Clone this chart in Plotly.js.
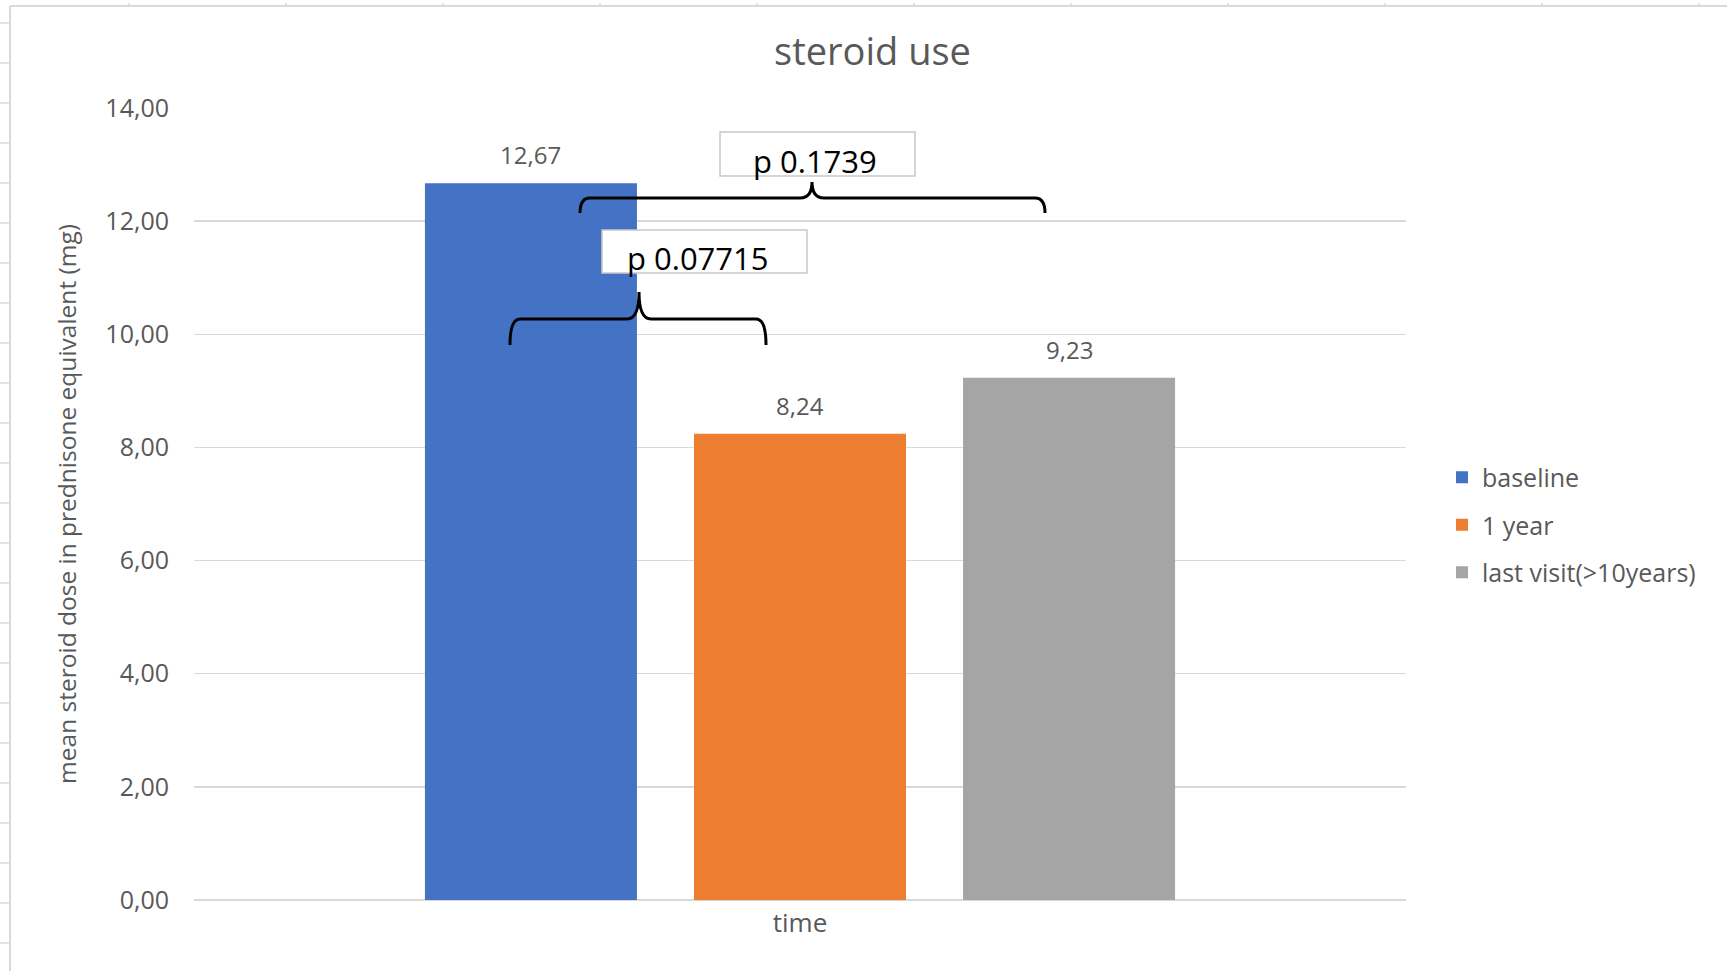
<!DOCTYPE html>
<html>
<head>
<meta charset="utf-8">
<script src="https://cdn.plot.ly/plotly-3.0.1.min.js"></script>
<style>html,body{margin:0;padding:0;background:#fff;}#chart{width:1727px;height:971px;}</style>
</head>
<body>
<div id="chart"></div>
<script>
// ---- data ----
const category = ["time"];
const seriesNames = ["baseline", "1 year", "last visit(>10years)"];
const seriesValues = [12.67, 8.24, 9.23];
const seriesColors = ["#4472C4", "#ED7D31", "#A5A5A5"];
const yTickValues = [0, 2, 4, 6, 8, 10, 12, 14];
const pLabels = ["p 0.1739", "p 0.07715"];

// ---- geometry ----
const W = 1727, H = 971;
const M = {l: 194, r: 321, t: 108, b: 71};
const PW = W - M.l - M.r, PH = H - M.t - M.b;
const px = x => (x - M.l) / PW;          // figure px -> paper x
const py = y => (H - M.b - y) / PH;      // figure px -> paper y
const BARGAP = 0.334, BARGROUPGAP = 0.212;
const slot = (1 - BARGAP) / seriesNames.length;

const traces = seriesNames.map((name, i) => ({
  type: "bar",
  name: name,
  x: category,
  y: [seriesValues[i]],
  legendgroup: "g" + i,
  marker: {color: seriesColors[i], line: {width: 0}},
  hoverinfo: "skip"
}));

const grey = "#595959";
const font = "Open Sans, sans-serif";

// value labels above bars
const valueAnn = seriesValues.map((v, i) => ({
  xref: "x", yref: "y",
  x: (i - (seriesNames.length - 1) / 2) * slot,
  y: v,
  text: v.toFixed(2).replace(".", ","),
  showarrow: false, yanchor: "bottom", yshift: 10,
  font: {family: font, size: 24, color: grey}
}));

// p-value boxes (rect) + text
const pBoxes = [
  {x0: 720, x1: 915, y0: 132, y1: 176, tx: 815, ty: 161, text: pLabels[0]},
  {x0: 602, x1: 807, y0: 230, y1: 273, tx: 698, ty: 258, text: pLabels[1]}
];
const pAnn = pBoxes.map(b => ({
  xref: "paper", yref: "paper", x: px(b.tx), y: py(b.ty),
  xanchor: "center", yanchor: "middle",
  text: b.text, showarrow: false, borderpad: 0,
  font: {family: font, size: 31, color: "#000000"}
}));

function brace(x1, xm, x2, y, ytip, yend) {
  const P = (x, yy) => px(x) + "," + py(yy);
  return "M" + P(x1, yend) + " Q" + P(x1, y) + " " + P(x1 + 10, y) +
    " L" + P(xm - 12, y) + " Q" + P(xm, y) + " " + P(xm, ytip) +
    " Q" + P(xm, y) + " " + P(xm + 12, y) +
    " L" + P(x2 - 10, y) + " Q" + P(x2, y) + " " + P(x2, yend);
}

const shapes = [
  {type: "path", xref: "paper", yref: "paper", path: brace(580, 812, 1045, 198, 182, 213), line: {color: "#000", width: 3}},
  {type: "path", xref: "paper", yref: "paper", path: brace(510, 639, 766, 319, 292, 345), line: {color: "#000", width: 3}},
  // sheet frame
  {type: "line", xref: "paper", yref: "paper", x0: px(10), x1: px(W), y0: py(6), y1: py(6), line: {color: "#d9d9d9", width: 2}},
  {type: "line", xref: "paper", yref: "paper", x0: px(10), x1: px(10), y0: py(6), y1: py(H), line: {color: "#d9d9d9", width: 2}}
];
pBoxes.forEach(b => shapes.push({
  type: "rect", xref: "paper", yref: "paper",
  x0: px(b.x0), x1: px(b.x1), y0: py(b.y0), y1: py(b.y1),
  fillcolor: "#ffffff", line: {color: "#c8c8c8", width: 1.5}
}));
for (let x = 129; x < W; x += 157) {
  shapes.push({type: "line", xref: "paper", yref: "paper", x0: px(x), x1: px(x), y0: py(3), y1: py(6), line: {color: "#d9d9d9", width: 1.5}});
}
for (let y = 23; y < H; y += 40) {
  shapes.push({type: "line", xref: "paper", yref: "paper", x0: px(0), x1: px(9), y0: py(y), y1: py(y), line: {color: "#d9d9d9", width: 1.5}});
}

const layout = {
  width: W, height: H,
  margin: M,
  paper_bgcolor: "#ffffff", plot_bgcolor: "#ffffff",
  separators: ", ",
  barmode: "group", bargap: BARGAP, bargroupgap: BARGROUPGAP,
  title: {
    text: "steroid use", xref: "container", yref: "container",
    x: 872.5 / W, y: 1 - 52 / H, xanchor: "center", yanchor: "middle",
    font: {family: font, size: 38, color: grey}
  },
  xaxis: {
    type: "category", showgrid: false, showline: false, zeroline: false,
    ticks: "", ticklabelstandoff: 5,
    tickfont: {family: font, size: 26, color: grey}
  },
  yaxis: {
    range: [0, 14], tickvals: yTickValues, tickformat: ".2f",
    showgrid: true, gridcolor: "#d9d9d9", gridwidth: 1.5,
    zeroline: true, zerolinecolor: "#d9d9d9", zerolinewidth: 1.5,
    showline: false, ticks: "", ticklabelstandoff: 24,
    tickfont: {family: font, size: 25, color: grey},
    title: {text: "mean steroid dose in prednisone equivalent (mg)", standoff: 21,
      font: {family: font, size: 24.5, color: grey}}
  },
  legend: {
    x: px(1442), xanchor: "left", y: py(525), yanchor: "middle",
    font: {family: font, size: 25, color: grey},
    tracegroupgap: 12, bgcolor: "rgba(0,0,0,0)"
  },
  annotations: valueAnn.concat(pAnn),
  shapes: shapes
};

Plotly.newPlot("chart", traces, layout, {displayModeBar: false, staticPlot: true});
</script>
</body>
</html>
